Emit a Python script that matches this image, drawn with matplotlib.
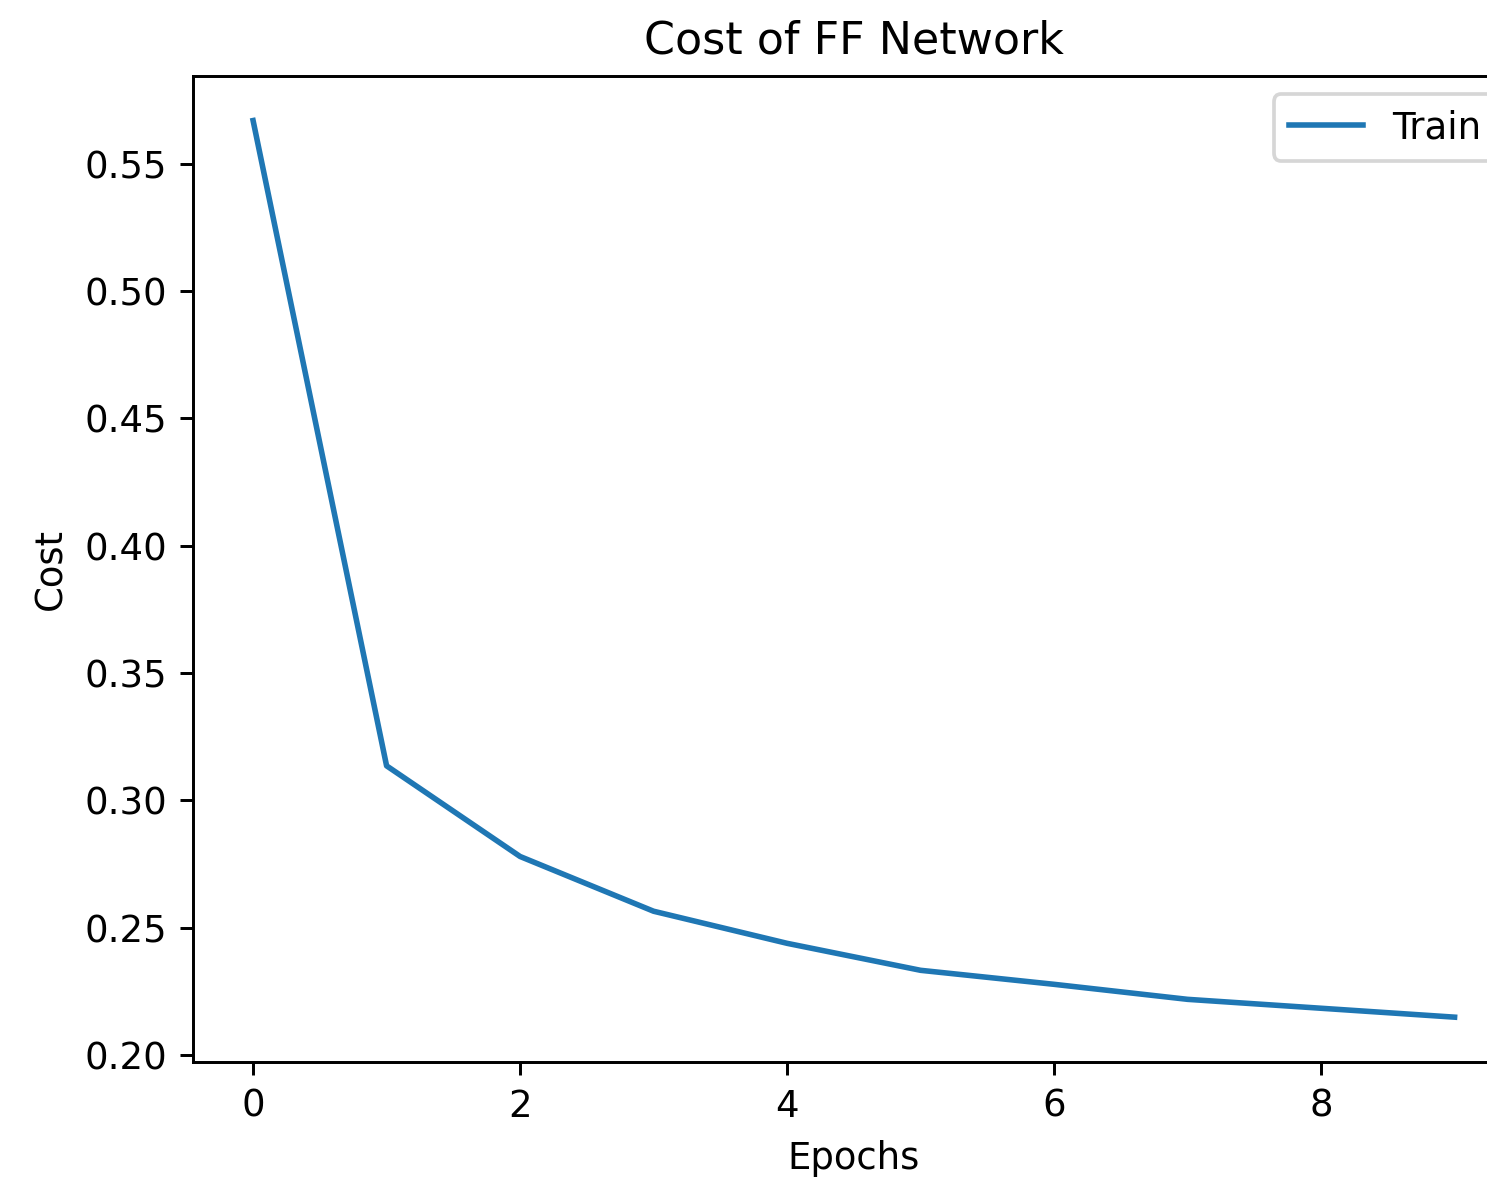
import matplotlib
matplotlib.use("Agg")
import matplotlib.pyplot as plt

epochs = [0, 1, 2, 3, 4, 5, 6, 7, 8, 9]
train_cost = [0.567, 0.3136, 0.278, 0.2565, 0.2439, 0.2333, 0.2278, 0.2219, 0.2184, 0.2149]

dpi = 266.5
fig = plt.figure(figsize=(1487 / dpi, 1185 / dpi), dpi=dpi)
# axes run past the right edge of the canvas
ax = fig.add_axes([0.1298, 0.1038, 0.8888, 0.8323])

ax.plot(epochs, train_cost, label="Train")
ax.set_title("Cost of FF Network")
ax.set_xlabel("Epochs")
ax.set_ylabel("Cost")
ax.legend(loc="upper right")

fig.savefig("out.png", dpi=dpi)
